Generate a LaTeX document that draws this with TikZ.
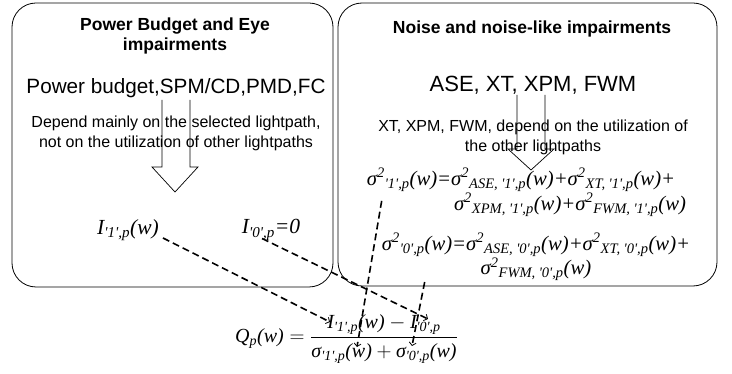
\documentclass[tikz,border=0pt]{standalone}
\usepackage{amsmath}
\usepackage{fontspec}
\setmainfont{Liberation Sans}
\newfontfamily\eqfont{Liberation Serif}
\usepackage{tikz}
\usetikzlibrary{arrows.meta, positioning}
\newcommand{\sigterm}[1]{σ\textsuperscript{2}\textsubscript{#1}(w)}

\begin{document}
\begin{tikzpicture}[
    x=1pt, y=-1pt,
    % Estilos de cajas y textos
    box/.style={draw, rounded corners=24pt, line width=0.8pt},
    title/.style={font=\fontsize{17.5}{20}\selectfont\bfseries, align=center},
    list/.style={font=\fontsize{20.7}{24}\selectfont},
    desc/.style={font=\fontsize{16}{20}\selectfont, align=center},
    eq/.style={font=\fontsize{20.7}{22}\selectfont\eqfont\itshape, inner sep=1pt},
    ieq/.style={eq, font=\fontsize{21.5}{24}\selectfont\eqfont\itshape},
    qeq/.style={font=\fontsize{20}{24}\selectfont, inner sep=1pt},
    % Estilos de flechas
    hollow/.style={line width=0.7pt},
    link/.style={dash pattern=on 7pt off 4pt, line width=1.6pt,
        -{Straight Barb[length=3pt, width=7pt, line width=0.8pt]}}
]
    \useasboundingbox (0,0) rectangle (732,374);

    % 1. Cajas
    \node[box, minimum width=321pt, minimum height=284pt] (pbbox) at (172.5,145) {};
    \node[box, minimum width=379pt, minimum height=283pt] (nsbox) at (527.5,144.5) {};

    % 2. Caja izquierda
    \node[title] (pbtitle) at (175,36) {Power Budget and Eye\\impairments};
    \node[list]  (pblist)  at (176,88) {Power budget,SPM/CD,PMD,FC};
    \node[desc]  (pbdesc)  at (176,133) {Depend mainly on the selected lightpath,\\not on the utilization of other lightpaths};
    \node[ieq] (ione)  at (128,230) {I\textsubscript{'1',p}(w)};
    \node[ieq] (izero) at (271,230) {I\textsubscript{'0',p}=0};

    % 3. Caja derecha
    \node[title] (nstitle) at (532,29) {Noise and noise-like impairments};
    \node[list, font=\fontsize{22}{24}\selectfont] (nslist) at (533,85) {ASE, XT, XPM, FWM};
    \node[desc]  (nsdesc)  at (533,137) {XT, XPM, FWM, depend on the utilization of\\the other lightpaths};
    \node[eq] (sigone)      at (521,180) {\sigterm{'1',p}=\sigterm{ASE, '1',p}+\sigterm{XT, '1',p}+};
    \node[eq] (sigonecont)  at (570,205) {\sigterm{XPM, '1',p}+\sigterm{FWM, '1',p}};
    \node[eq, align=center] (sigzero) at (536,257)
        {\sigterm{'0',p}=\sigterm{ASE, '0',p}+\sigterm{XT, '0',p}+\\\sigterm{FWM, '0',p}};

    % 4. Flechas huecas
    \draw[hollow] (162,100) |- (152,167) -- (175,192) -- (198,167) -| (190,100);
    \draw[hollow] (517,95) |- (508,149) -- (531,170) -- (554,149) -| (545,95);

    % 5. Factor Q
    \node[qeq] (qform) at (346.5,339) {$\mbox{\eqfont\itshape Q\textsubscript{p}(w)} =
        \dfrac{\mbox{\eqfont\itshape I\textsubscript{'1',p}(w)} - \mbox{\eqfont\itshape I\textsubscript{'0',p}}}
              {\mbox{\eqfont\itshape σ\textsubscript{'1',p}(w)} + \mbox{\eqfont\itshape σ\textsubscript{'0',p}(w)}}$};

    \coordinate (numone)  at (330,322);
    \coordinate (numzero) at (428,319);
    \coordinate (denone)  at (357,347);
    \coordinate (denzero) at (412,346);

    % 6. Conectores discontinuos
    \draw[link] ([shift={(3,8)}]ione.east) -- (numone);
    \draw[link] ([shift={(-9,-3)}]izero.south) -- (numzero);
    \draw[link] ([shift={(16,8)}]sigone.south west) -- (denone);
    \draw[link] ([xshift=44]sigzero.south west) -- (denzero);

\end{tikzpicture}
\end{document}
